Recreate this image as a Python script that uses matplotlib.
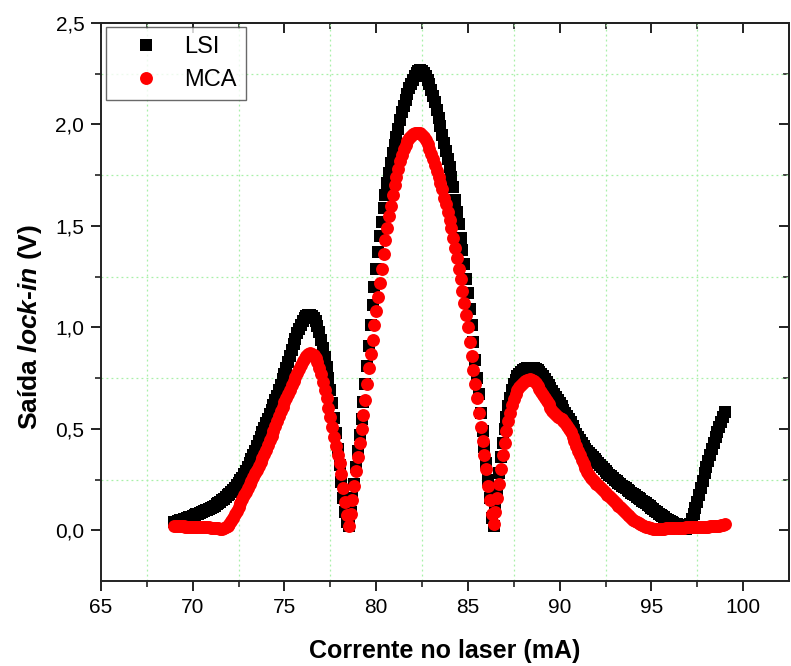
import numpy as np
import matplotlib
matplotlib.use("Agg")
import matplotlib.pyplot as plt
from matplotlib.ticker import FixedLocator, FixedFormatter

plt.rcParams['font.family'] = ['Liberation Sans', 'DejaVu Sans']
plt.rcParams['mathtext.fontset'] = 'custom'
plt.rcParams['mathtext.it'] = 'Liberation Sans:italic:bold'
plt.rcParams['mathtext.rm'] = 'Liberation Sans:bold'

# ---------------- data ----------------
current_mA = np.round(np.arange(690, 991) / 10.0, 1)   # 69.0 ... 99.0 mA, step 0.1

lsi = [
    0.040, 0.043, 0.046, 0.049, 0.052, 0.055, 0.058, 0.061, 0.064, 0.067,
    0.070, 0.074, 0.078, 0.082, 0.086, 0.090, 0.094, 0.098, 0.102, 0.106,
    0.110, 0.116, 0.122, 0.128, 0.134, 0.140, 0.148, 0.156, 0.164, 0.172,
    0.180, 0.190, 0.200, 0.210, 0.222, 0.234, 0.246, 0.258, 0.275, 0.293,
    0.312, 0.331, 0.350, 0.371, 0.393, 0.415, 0.438, 0.461, 0.483, 0.505,
    0.527, 0.549, 0.571, 0.594, 0.617, 0.640, 0.664, 0.690, 0.717, 0.744,
    0.772, 0.800, 0.830, 0.860, 0.890, 0.918, 0.945, 0.970, 0.992, 1.010,
    1.030, 1.045, 1.055, 1.060, 1.060, 1.055, 1.045, 1.030, 1.005, 0.975,
    0.940, 0.900, 0.855, 0.805, 0.750, 0.690, 0.625, 0.555, 0.480, 0.400,
    0.320, 0.240, 0.160, 0.090, 0.040, 0.020, 0.090, 0.160, 0.230, 0.310,
    0.390, 0.470, 0.550, 0.630, 0.720, 0.810, 0.910, 1.010, 1.110, 1.200,
    1.290, 1.370, 1.450, 1.520, 1.590, 1.650, 1.710, 1.760, 1.810, 1.860,
    1.900, 1.940, 1.980, 2.020, 2.060, 2.090, 2.120, 2.150, 2.180, 2.200,
    2.220, 2.240, 2.255, 2.265, 2.270, 2.265, 2.255, 2.240, 2.220, 2.200,
    2.170, 2.140, 2.110, 2.070, 2.030, 1.990, 1.950, 1.910, 1.870, 1.830,
    1.790, 1.740, 1.690, 1.630, 1.570, 1.510, 1.440, 1.380, 1.310, 1.240,
    1.170, 1.090, 1.010, 0.930, 0.840, 0.750, 0.670, 0.580, 0.490, 0.410,
    0.330, 0.250, 0.160, 0.060, 0.020, 0.100, 0.190, 0.280, 0.360, 0.430,
    0.500, 0.560, 0.610, 0.650, 0.690, 0.720, 0.740, 0.760, 0.770, 0.780,
    0.790, 0.795, 0.800, 0.800, 0.800, 0.800, 0.800, 0.795, 0.790, 0.780,
    0.770, 0.760, 0.745, 0.730, 0.715, 0.700, 0.685, 0.670, 0.655, 0.640,
    0.625, 0.610, 0.595, 0.580, 0.565, 0.550, 0.535, 0.515, 0.495, 0.475,
    0.460, 0.445, 0.430, 0.415, 0.400, 0.390, 0.380, 0.370, 0.360, 0.350,
    0.340, 0.330, 0.320, 0.310, 0.300, 0.290, 0.282, 0.274, 0.266, 0.258,
    0.250, 0.242, 0.235, 0.228, 0.220, 0.213, 0.206, 0.200, 0.193, 0.186,
    0.180, 0.173, 0.166, 0.160, 0.153, 0.146, 0.139, 0.132, 0.125, 0.118,
    0.110, 0.103, 0.096, 0.089, 0.082, 0.075, 0.069, 0.063, 0.057, 0.051,
    0.046, 0.041, 0.037, 0.033, 0.030, 0.027, 0.022, 0.015, 0.008, 0.005,
    0.010, 0.030, 0.055, 0.080, 0.110, 0.140, 0.175, 0.210, 0.245, 0.280,
    0.310, 0.340, 0.370, 0.400, 0.430, 0.460, 0.485, 0.510, 0.535, 0.560,
    0.585,
]

mca = [
    0.020, 0.020, 0.020, 0.019, 0.019, 0.019, 0.018, 0.018, 0.018, 0.018,
    0.018, 0.018, 0.017, 0.017, 0.017, 0.016, 0.016, 0.015, 0.015, 0.014,
    0.013, 0.012, 0.011, 0.010, 0.009, 0.008, 0.008, 0.010, 0.015, 0.022,
    0.032, 0.045, 0.060, 0.078, 0.096, 0.115, 0.134, 0.153, 0.172, 0.190,
    0.208, 0.226, 0.244, 0.262, 0.280, 0.298, 0.317, 0.336, 0.356, 0.377,
    0.398, 0.420, 0.443, 0.467, 0.491, 0.516, 0.540, 0.564, 0.587, 0.609,
    0.630, 0.651, 0.672, 0.693, 0.714, 0.735, 0.756, 0.777, 0.797, 0.816,
    0.833, 0.848, 0.860, 0.868, 0.872, 0.870, 0.862, 0.848, 0.827, 0.800,
    0.768, 0.732, 0.693, 0.650, 0.605, 0.557, 0.508, 0.460, 0.413, 0.370,
    0.330, 0.275, 0.210, 0.140, 0.075, 0.020, 0.080, 0.150, 0.220, 0.290,
    0.360, 0.430, 0.500, 0.570, 0.640, 0.720, 0.800, 0.870, 0.940, 1.010,
    1.080, 1.150, 1.220, 1.290, 1.360, 1.430, 1.490, 1.550, 1.600, 1.650,
    1.700, 1.740, 1.780, 1.820, 1.850, 1.880, 1.900, 1.920, 1.935, 1.945,
    1.952, 1.957, 1.960, 1.960, 1.957, 1.950, 1.940, 1.925, 1.905, 1.880,
    1.855, 1.830, 1.800, 1.770, 1.740, 1.710, 1.680, 1.640, 1.610, 1.570,
    1.530, 1.490, 1.440, 1.390, 1.340, 1.290, 1.240, 1.180, 1.120, 1.060,
    1.000, 0.930, 0.860, 0.790, 0.720, 0.650, 0.580, 0.510, 0.440, 0.370,
    0.300, 0.220, 0.150, 0.080, 0.030, 0.090, 0.160, 0.230, 0.300, 0.370,
    0.430, 0.490, 0.540, 0.580, 0.615, 0.645, 0.670, 0.690, 0.705, 0.717,
    0.727, 0.735, 0.740, 0.743, 0.745, 0.742, 0.735, 0.725, 0.710, 0.695,
    0.680, 0.665, 0.650, 0.635, 0.620, 0.605, 0.590, 0.578, 0.568, 0.560,
    0.553, 0.546, 0.538, 0.528, 0.515, 0.500, 0.482, 0.462, 0.440, 0.417,
    0.393, 0.370, 0.347, 0.325, 0.305, 0.288, 0.273, 0.260, 0.249, 0.239,
    0.230, 0.221, 0.212, 0.203, 0.194, 0.185, 0.176, 0.167, 0.158, 0.149,
    0.140, 0.131, 0.122, 0.113, 0.104, 0.095, 0.086, 0.077, 0.068, 0.060,
    0.052, 0.045, 0.039, 0.034, 0.029, 0.025, 0.021, 0.018, 0.015, 0.012,
    0.010, 0.008, 0.006, 0.005, 0.005, 0.006, 0.007, 0.008, 0.009, 0.010,
    0.010, 0.011, 0.011, 0.012, 0.012, 0.012, 0.013, 0.013, 0.013, 0.014,
    0.014, 0.014, 0.015, 0.015, 0.015, 0.016, 0.016, 0.016, 0.017, 0.017,
    0.018, 0.018, 0.019, 0.019, 0.020, 0.021, 0.022, 0.023, 0.025, 0.027,
    0.030,
]

series_labels = ["LSI", "MCA"]
x_ticks = [65, 70, 75, 80, 85, 90, 95, 100]
x_ticklabels = ["65", "70", "75", "80", "85", "90", "95", "100"]
x_minor = [67.5, 72.5, 77.5, 82.5, 87.5, 92.5, 97.5]
y_ticks = [0.0, 0.5, 1.0, 1.5, 2.0, 2.5]
y_ticklabels = ["0,0", "0,5", "1,0", "1,5", "2,0", "2,5"]
y_minor = [0.25, 0.75, 1.25, 1.75, 2.25]
x_label = "Corrente no laser (mA)"
y_label = r"Saída $lock$-$in$ (V)"

# ---------------- figure ----------------
fig = plt.figure(figsize=(7.91, 6.66), dpi=100)
ax = fig.add_axes([101/791, 1 - 581/666, (789 - 101)/791, (581 - 23)/666])

ax.plot(current_mA, lsi, linestyle='none', marker='s', markersize=8.3,
        color='black', markeredgewidth=0, label=series_labels[0], zorder=3)
ax.plot(current_mA, mca, linestyle='none', marker='o', markersize=9.3,
        color='#ff0000', markeredgewidth=0, label=series_labels[1], zorder=4)

ax.set_xlim(65, 102.5)
ax.set_ylim(-0.25, 2.5)

ax.xaxis.set_major_locator(FixedLocator(x_ticks))
ax.xaxis.set_major_formatter(FixedFormatter(x_ticklabels))
ax.yaxis.set_major_locator(FixedLocator(y_ticks))
ax.yaxis.set_major_formatter(FixedFormatter(y_ticklabels))
ax.xaxis.set_minor_locator(FixedLocator(x_minor))
ax.yaxis.set_minor_locator(FixedLocator(y_minor))

ax.grid(False, which='major')
ax.grid(True, which='minor', color='#a8f0a8', linestyle=(0, (1.5, 2.5)), linewidth=0.9)

edge = '#222222'
for s in ax.spines.values():
    s.set_linewidth(1.4)
    s.set_color(edge)

ax.tick_params(which='major', direction='out', length=7, width=1.4, color=edge,
               labelsize=15, pad=5)
ax.tick_params(which='minor', direction='out', length=4, width=1.2, color=edge)

# inward ticks on top and right
top = ax.secondary_xaxis('top')
top.xaxis.set_major_locator(FixedLocator(x_ticks))
top.xaxis.set_minor_locator(FixedLocator(x_minor))
top.tick_params(which='major', direction='in', length=7, width=1.4, color=edge, labeltop=False)
top.tick_params(which='minor', direction='in', length=4, width=1.2, color=edge)
top.spines['top'].set_linewidth(1.4)
top.spines['top'].set_color(edge)

right = ax.secondary_yaxis('right')
right.yaxis.set_major_locator(FixedLocator(y_ticks))
right.yaxis.set_minor_locator(FixedLocator(y_minor))
right.tick_params(which='major', direction='in', length=7, width=1.4, color=edge, labelright=False)
right.tick_params(which='minor', direction='in', length=4, width=1.2, color=edge)
right.spines['right'].set_linewidth(1.4)
right.spines['right'].set_color(edge)

ax.set_xlabel(x_label, fontsize=18, fontweight='bold', labelpad=16)
ax.set_ylabel(y_label, fontsize=19, fontweight='bold', labelpad=12)
ax.yaxis.set_label_coords(-0.083, 0.455)

leg = ax.legend(loc='upper left', bbox_to_anchor=(0.007, 0.993), borderaxespad=0,
                fontsize=17, frameon=True, fancybox=False, edgecolor='#444444',
                handletextpad=0.3, borderpad=0.4, labelspacing=0.45,
                handlelength=2.6, markerscale=1.0)
leg.get_frame().set_linewidth(1.0)

fig.savefig("out.png", dpi=100)
